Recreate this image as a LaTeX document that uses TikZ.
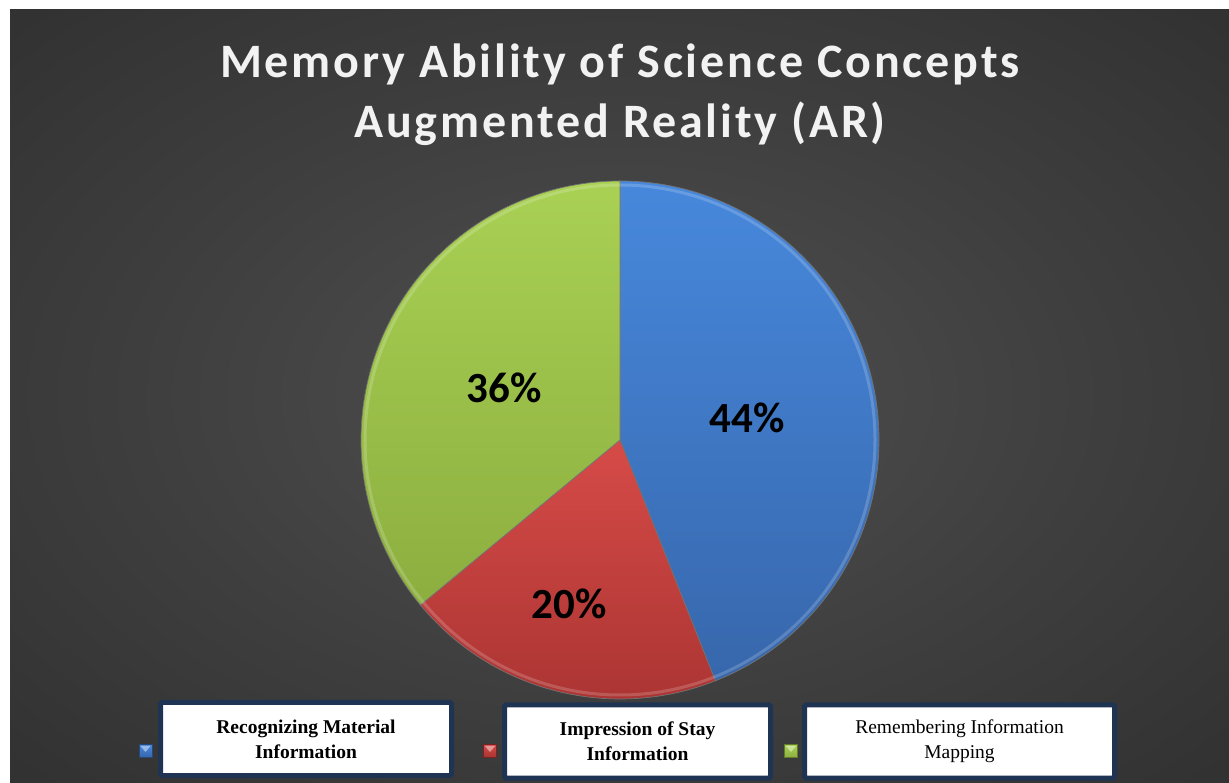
\documentclass[tikz,border=0pt]{standalone}
\usepackage{fontspec}
\usetikzlibrary{calc}
\setmainfont{Liberation Serif}
\newfontfamily\calib{Carlito}
\newfontfamily\calibsp[LetterSpace=6]{Carlito}
\definecolor{bgin}{HTML}{505050}
\definecolor{bgmid}{HTML}{3E3E3E}
\definecolor{bgout}{HTML}{272727}
\definecolor{bluetop}{HTML}{4788DC}
\definecolor{bluebot}{HTML}{3767AC}
\definecolor{redtop}{HTML}{D64B48}
\definecolor{redbot}{HTML}{A83331}
\definecolor{greentop}{HTML}{A9D154}
\definecolor{greenbot}{HTML}{8CAE3F}
\definecolor{navy}{HTML}{1E3452}
\pgfdeclareradialshading{bgshade}{\pgfpoint{0bp}{0bp}}{color(0bp)=(bgin); color(20bp)=(bgmid); color(48bp)=(bgout); color(80bp)=(bgout)}
\tikzset{
  pct/.style={font=\calib\bfseries\fontsize{43}{46}\selectfont, text=black},
  ttl/.style={font=\calibsp\bfseries\fontsize{48}{54}\selectfont, text=white!95!black, anchor=base},
  legbox/.style={draw=navy, line width=5pt, fill=white, rounded corners=1.5pt, minimum height=73pt, align=center, text=black, inner sep=0pt},
  slice/.style={draw=black!55, line width=0.7pt},
}
\begin{document}
\begin{tikzpicture}[x=1pt,y=1pt]
\useasboundingbox (0,0) rectangle (1229,782);
\fill[white] (0,0) rectangle (1229,782);
\shade[shading=bgshade] (10,0) rectangle (1229,772);
% title
\node[ttl] (t1) at (620,704) {Memory Ability of Science Concepts};
\node[ttl] (t2) at (620,644) {Augmented Reality (AR)};
% pie
\coordinate (c) at (620,342);
\shade[slice, top color=bluetop, bottom color=bluebot]
  (c) -- ++(90:259) arc[start angle=90, end angle=-68.4, radius=259] -- cycle;
\shade[slice, top color=redtop, bottom color=redbot]
  (c) -- ++(-68.4:259) arc[start angle=-68.4, end angle=-140.4, radius=259] -- cycle;
\shade[slice, top color=greentop, bottom color=greenbot]
  (c) -- ++(-140.4:259) arc[start angle=-140.4, end angle=-270, radius=259] -- cycle;
\draw[white, opacity=0.18, line width=3pt] (c) ++(90:255) arc[start angle=90, end angle=-270, radius=255];
\node[pct] (p44) at (747,364) {44\%};
\node[pct] (p36) at (504,394) {36\%};
\node[pct] (p20) at (569,178) {20\%};
% legend
\node[legbox, minimum width=291pt, font=\bfseries\fontsize{19.5}{25}\selectfont] (l1) at (306,43) {Recognizing Material\\Information};
\node[legbox, minimum width=266pt, font=\bfseries\fontsize{19.5}{25}\selectfont] (l2) at (637.5,40.5) {Impression of Stay\\Information};
\node[legbox, minimum width=310pt, font=\fontsize{19.5}{25}\selectfont] (l3) at (959.5,40.5) {Remembering Information\\Mapping};
% markers
\foreach \n/\x/\ct/\cb in {m1/145.5/bluetop/bluebot, m2/490/redtop/redbot, m3/791/greentop/greenbot}{
  \node[draw=\cb!70!black, line width=0.5pt, top color=\ct, bottom color=\cb, minimum size=13pt, inner sep=0pt] (\n) at (\x,31) {};
  \fill[white, opacity=0.45] ($(\n.north west)+(1.5,-1.5)$) -- ($(\n.north east)+(-1.5,-1.5)$) -- ($(\n.center)+(0,-1)$) -- cycle;
}
\end{tikzpicture}
\end{document}
